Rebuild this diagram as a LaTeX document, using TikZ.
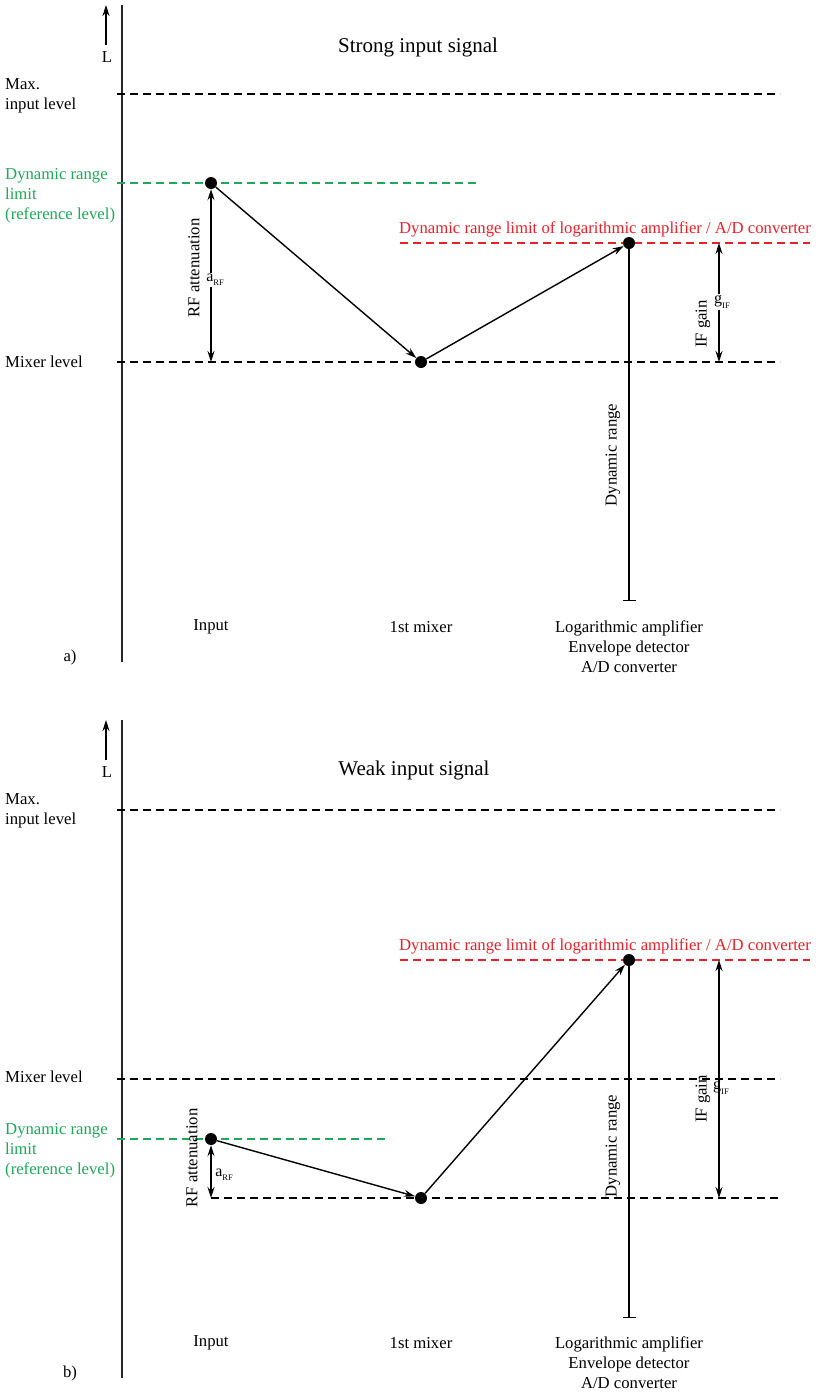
\documentclass[tikz,border=0pt]{standalone}
\usepackage{fontspec}
\setmainfont{Liberation Serif}
\usetikzlibrary{arrows.meta}
\definecolor{dgreen}{RGB}{30,168,90}
\definecolor{dred}{RGB}{232,32,42}
\begin{document}
\begin{tikzpicture}[x=1pt,y=-1pt,
  lvl/.style={dash pattern=on 8pt off 5pt, line width=1.1pt},
  axis/.style={line width=1.7pt, draw=black!85},
  dot/.style={circle, fill=black, inner sep=0pt, minimum size=12pt},
  arr/.style={line width=1.4pt, -{Stealth[length=11pt,width=7pt]}},
  darr/.style={line width=1.4pt, {Stealth[length=11pt,width=7pt]}-{Stealth[length=11pt,width=7pt]}},
  barl/.style={line width=1.5pt, -{Bar[width=13pt,line width=1.5pt]}},
  lbl/.style={font=\fontsize{16.7}{20}\selectfont, inner sep=0pt},
  ttl/.style={font=\fontsize{21}{24}\selectfont, inner sep=0pt},
  sub/.style={font=\fontsize{16}{18}\selectfont, inner sep=1pt},
]
\useasboundingbox (0,0) rectangle (816,1393);
\newcommand{\aRF}{a\raisebox{-4pt}{\fontsize{8.5}{8.5}\selectfont RF}}
\newcommand{\gIF}{g\raisebox{-5pt}{\fontsize{8.5}{8.5}\selectfont IF}}

% ================= panel a =================
\coordinate (axAtop) at (122,5);
\coordinate (axAbot) at (122,662);
\draw[axis] (axAbot) -- (axAtop);
\coordinate (LaS) at (106,45);
\coordinate (LaE) at (106,5);
\draw[arr] (LaS) -- (LaE);
\node[lbl] (La) at (107,57) {L};
\node[ttl] (tA) at (418,47) {Strong input signal};

% max input level
\coordinate (maxA1) at (117,94);
\coordinate (maxA2) at (780,94);
\draw[lvl] (maxA1) -- (maxA2);
\node[lbl, anchor=west, align=left] (maxAl) at (5,96) {Max.\\input level};

% dynamic range limit (green)
\coordinate (grA1) at (117,183);
\coordinate (grA2) at (478,183);
\draw[lvl, draw=dgreen] (grA1) -- (grA2);
\node[lbl, anchor=west, align=left, text=dgreen] (grAl) at (5,196) {Dynamic range\\limit\\(reference level)};

% mixer level
\coordinate (mxA1) at (117,362);
\coordinate (mxA2) at (780,362);
\draw[lvl] (mxA1) -- (mxA2);
\node[lbl, anchor=west] (mxAl) at (5,362) {Mixer level};

% red limit
\coordinate (rdA1) at (400,243);
\coordinate (rdA2) at (810,243);
\draw[lvl, draw=dred] (rdA1) -- (rdA2);
\node[lbl, text=dred] (rdAl) at (605,229) {Dynamic range limit of logarithmic amplifier / A/D converter};

% dots
\node[dot] (inA) at (211,183) {};
\node[dot] (miA) at (421,362) {};
\node[dot] (loA) at (629,243) {};
\draw[arr] (inA) -- (miA);
\draw[arr] (miA) -- (loA);

% RF attenuation
\coordinate (rfAb) at (211,362);
\draw[darr] (inA) -- (rfAb);
\node[sub, fill=white] (aA) at (215,280) {\aRF};
\node[lbl, rotate=90] (rfAl) at (194,268) {RF attenuation};

% dynamic range
\coordinate (drAb) at (629,601);
\draw[barl] (loA) -- (drAb);
\node[lbl, rotate=90] (drAl) at (613,455) {Dynamic range};

% IF gain
\coordinate (ifAt) at (719,243);
\coordinate (ifAb) at (719,362);
\draw[darr] (ifAt) -- (ifAb);
\node[sub, fill=white] (gA) at (722,302) {\gIF};
\node[lbl, rotate=90] (ifAl) at (703,324) {IF gain};

% bottom labels
\node[lbl] (inAl) at (211,627) {Input};
\node[lbl] (miAl) at (421,627) {1st mixer};
\node[lbl, align=center] (loAl) at (629,647) {Logarithmic amplifier\\Envelope detector\\A/D converter};
\node[lbl] (pa) at (70,657) {a)};

% ================= panel b =================
\coordinate (axBtop) at (122,720);
\coordinate (axBbot) at (122,1378);
\draw[axis] (axBbot) -- (axBtop);
\coordinate (LbS) at (106,760);
\coordinate (LbE) at (106,720);
\draw[arr] (LbS) -- (LbE);
\node[lbl] (Lb) at (107,772) {L};
\node[ttl] (tB) at (414,770) {Weak input signal};

\coordinate (maxB1) at (117,810);
\coordinate (maxB2) at (780,810);
\draw[lvl] (maxB1) -- (maxB2);
\node[lbl, anchor=west, align=left] (maxBl) at (5,811) {Max.\\input level};

\coordinate (rdB1) at (400,960);
\coordinate (rdB2) at (810,960);
\draw[lvl, draw=dred] (rdB1) -- (rdB2);
\node[lbl, text=dred] (rdBl) at (605,946) {Dynamic range limit of logarithmic amplifier / A/D converter};

\coordinate (mxB1) at (117,1079);
\coordinate (mxB2) at (780,1079);
\draw[lvl] (mxB1) -- (mxB2);
\node[lbl, anchor=west] (mxBl) at (5,1077) {Mixer level};

\coordinate (grB1) at (117,1139);
\coordinate (grB2) at (388,1139);
\draw[lvl, draw=dgreen] (grB1) -- (grB2);
\node[lbl, anchor=west, align=left, text=dgreen] (grBl) at (5,1151) {Dynamic range\\limit\\(reference level)};

\coordinate (lwB1) at (211,1198);
\coordinate (lwB2) at (780,1198);
\draw[lvl] (lwB1) -- (lwB2);

\node[dot] (inB) at (211,1139) {};
\node[dot] (miB) at (421,1198) {};
\node[dot] (loB) at (629,960) {};
\draw[arr] (inB) -- (miB);
\draw[arr] (miB) -- (loB);

\coordinate (rfBb) at (211,1198);
\draw[darr] (inB) -- (rfBb);
\node[sub] (aB) at (224,1175) {\aRF};
\node[lbl, rotate=90] (rfBl) at (192,1158) {RF attenuation};

\coordinate (drBb) at (629,1318);
\draw[barl] (loB) -- (drBb);
\node[lbl, rotate=90] (drBl) at (613,1146) {Dynamic range};

\coordinate (ifBt) at (719,960);
\coordinate (ifBb) at (719,1198);
\draw[darr] (ifBt) -- (ifBb);
\node[sub] (gB) at (721,1088) {\gIF};
\node[lbl, rotate=90] (ifBl) at (703,1099) {IF gain};

\node[lbl] (inBl) at (211,1343) {Input};
\node[lbl] (miBl) at (421,1343) {1st mixer};
\node[lbl, align=center] (loBl) at (629,1363) {Logarithmic amplifier\\Envelope detector\\A/D converter};
\node[lbl] (pb) at (70,1373) {b)};
\end{tikzpicture}
\end{document}
